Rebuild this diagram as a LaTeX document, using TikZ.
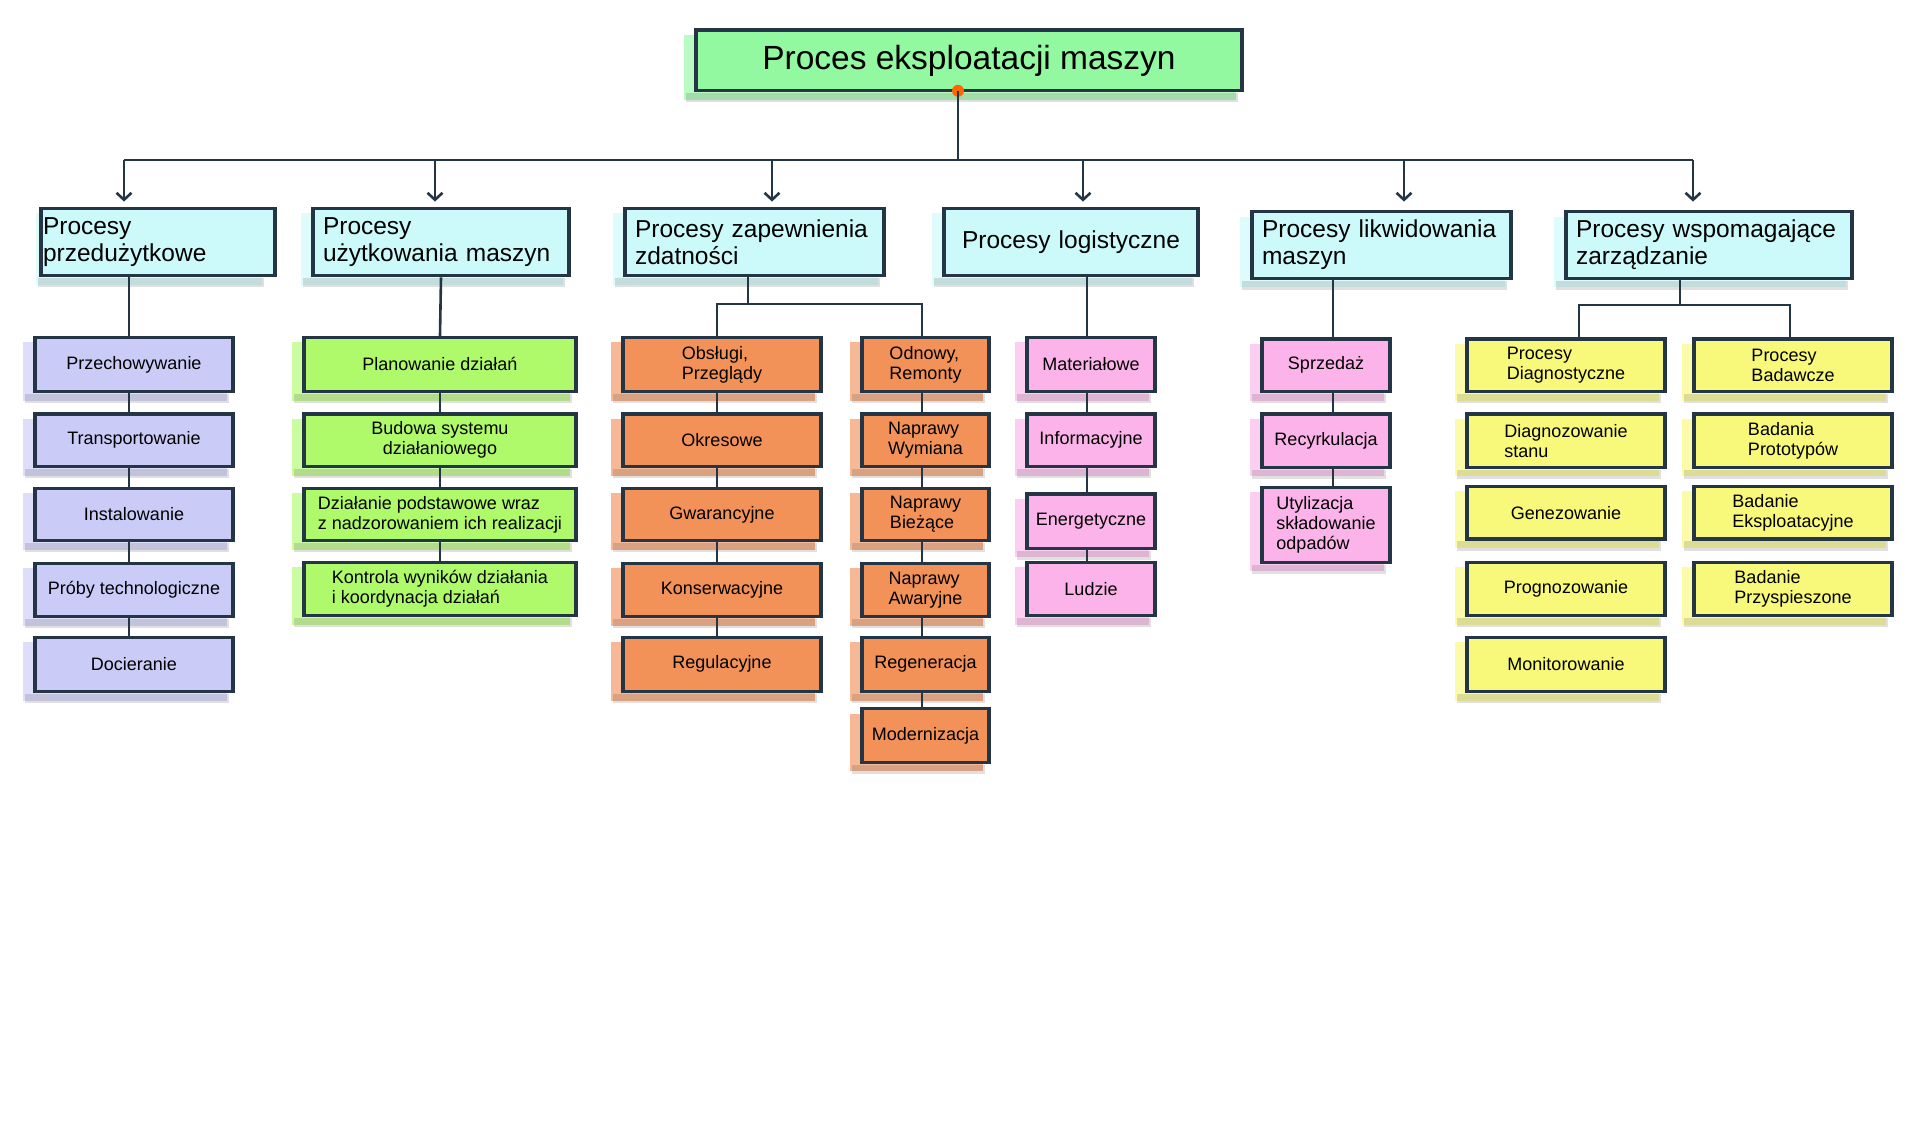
\documentclass[tikz,border=0pt]{standalone}
\usepackage{fontspec}
\setmainfont{Liberation Sans}
\usetikzlibrary{arrows.meta}
\definecolor{edge}{HTML}{243646}
\definecolor{cmain}{HTML}{93F9A0}
\definecolor{ccyan}{HTML}{CCFAFA}
\definecolor{clav}{HTML}{CBCBF8}
\definecolor{cgreen}{HTML}{AEFA6A}
\definecolor{corange}{HTML}{F29158}
\definecolor{cpink}{HTML}{FBB3E9}
\definecolor{cyel}{HTML}{F8F87A}
\tikzset{
 box/.style={draw=edge,line width=3.2pt,inner sep=2pt,align=center},
 lab/.style={font=\fontsize{18}{20}\selectfont},
 big/.style={font=\fontsize{24.5}{27}\selectfont,align=left},
 conn/.style={draw=edge,line width=2.6pt},
 arr/.style={conn,-{Straight Barb[length=7pt,width=15pt,line width=2.6pt]}},
}
\newcommand\bx[8][lab]{%
 \fill[#7!75,opacity=.85] (#3-12,#4+6) rectangle (#5-6,#6+11);
 \fill[black,opacity=.12] (#3-10,#6+3) rectangle (#5-4,#6+14);
 \node[box,#1,fill=#7,minimum width={(#5-#3)*1pt},minimum height={(#6-#4)*0.833pt}] (#2) at ({(#3+#5)/2},{(#4+#6)/2}) {#8};}
\begin{document}
\begin{tikzpicture}[x=1pt,y=-0.833pt]
\useasboundingbox (0,0) rectangle (1920,1360);
% main
\bx[font=\fontsize{33.5}{37}\selectfont]{main}{696}{36}{1242}{109}{cmain}{Proces eksploatacji maszyn}
% level 1
\bx[big,text width=230pt]{L1}{48}{250}{268}{331}{ccyan}{Procesy\\przedużytkowe}
\bx[big,text width=236pt]{L2}{313}{250}{569}{331}{ccyan}{Procesy\\użytkowania maszyn}
\bx[big,text width=239pt]{L3}{625}{250}{884}{331}{ccyan}{Procesy zapewnienia\\zdatności}
\bx[big,text width=234pt,align=center]{L4}{944}{250}{1198}{331}{ccyan}{Procesy logistyczne}
\bx[big,text width=239pt]{L5}{1252}{254}{1511}{334}{ccyan}{Procesy likwidowania\\maszyn}
\bx[big,text width=266pt]{L6}{1566}{254}{1852}{334}{ccyan}{Procesy wspomagające\\zarządzanie}
\fill[orange!80!red] (958,109) circle (6pt);
\coordinate (top) at (958,109);
\coordinate (bus) at (958,192);
\draw[conn] (top) -- (bus);
\draw[conn] (124,192) -- (1693,192);
\foreach \x/\n in {124/a1,435/a2,772/a3,1083/a4,1404/a5,1693/a6}{
 \coordinate (\n) at (\x,192);
 \draw[arr] (\n) -- ++(0,50);}
% column 1
\bx{c11}{35}{405}{233}{470}{clav}{Przechowywanie}
\bx{c12}{35}{497}{233}{560}{clav}{Transportowanie}
\bx{c13}{35}{586}{233}{649}{clav}{Instalowanie}
\bx{c14}{35}{676}{233}{740}{clav}{Próby technologiczne}
\bx{c15}{35}{765}{233}{830}{clav}{Docieranie}
% column 2
\bx{c21}{304}{405}{576}{470}{cgreen}{Planowanie działań}
\bx{c22}{304}{497}{576}{560}{cgreen}{Budowa systemu\\działaniowego}
\bx[lab,align=left]{c23}{304}{586}{576}{649}{cgreen}{Działanie podstawowe wraz\\z nadzorowaniem ich realizacji}
\bx[lab,align=left]{c24}{304}{675}{576}{739}{cgreen}{Kontrola wyników działania\\i koordynacja działań}
% column 3a
\bx[lab,align=left]{c31}{623}{405}{821}{470}{corange}{Obsługi,\\Przeglądy}
\bx{c32}{623}{497}{821}{560}{corange}{Okresowe}
\bx{c33}{623}{586}{821}{649}{corange}{Gwarancyjne}
\bx{c34}{623}{676}{821}{740}{corange}{Konserwacyjne}
\bx{c35}{623}{765}{821}{830}{corange}{Regulacyjne}
% column 3b
\bx[lab,align=left]{d31}{862}{405}{989}{470}{corange}{Odnowy,\\Remonty}
\bx[lab,align=left]{d32}{862}{497}{989}{560}{corange}{Naprawy\\Wymiana}
\bx[lab,align=left]{d33}{862}{586}{989}{649}{corange}{Naprawy\\Bieżące}
\bx[lab,align=left]{d34}{862}{676}{989}{740}{corange}{Naprawy\\Awaryjne}
\bx{d35}{862}{765}{989}{830}{corange}{Regeneracja}
\bx{d36}{862}{851}{989}{915}{corange}{Modernizacja}
% column 4
\bx{c41}{1027}{405}{1155}{470}{cpink}{Materiałowe}
\bx{c42}{1027}{497}{1155}{560}{cpink}{Informacyjne}
\bx{c43}{1027}{593}{1155}{658}{cpink}{Energetyczne}
\bx{c44}{1027}{675}{1155}{739}{cpink}{Ludzie}
% column 5
\bx{c51}{1262}{407}{1390}{470}{cpink}{Sprzedaż}
\bx{c52}{1262}{497}{1390}{561}{cpink}{Recyrkulacja}
\bx[lab,align=left]{c53}{1262}{585}{1390}{675}{cpink}{Utylizacja\\składowanie\\odpadów}
% column 6a
\bx[lab,align=left]{c61}{1467}{407}{1665}{470}{cyel}{Procesy\\Diagnostyczne}
\bx[lab,align=left]{c62}{1467}{497}{1665}{561}{cyel}{Diagnozowanie\\stanu}
\bx{c63}{1467}{584}{1665}{647}{cyel}{Genezowanie}
\bx{c64}{1467}{675}{1665}{739}{cyel}{Prognozowanie}
\bx{c65}{1467}{765}{1665}{830}{cyel}{Monitorowanie}
% column 6b
\bx[lab,align=left]{d61}{1694}{407}{1892}{470}{cyel}{Procesy\\Badawcze}
\bx[lab,align=left]{d62}{1694}{497}{1892}{561}{cyel}{Badania\\Prototypów}
\bx[lab,align=left]{d63}{1694}{584}{1892}{647}{cyel}{Badanie\\Eksploatacyjne}
\bx[lab,align=left]{d64}{1694}{675}{1892}{739}{cyel}{Badanie\\Przyspieszone}
% connectors
\draw[conn] (L1.south -| 129,0) -- (c11.north -| 129,0);
\draw[conn] (L2.south) -- (c21.north);
\draw[conn] (L3.south -| 748,0) -- (748,365) -| (c31.north -| 717,0);
\draw[conn] (748,365) -| (d31.north -| 922,0);
\draw[conn] (L4.south -| 1087,0) -- (c41.north -| 1087,0);
\draw[conn] (L5.south -| 1333,0) -- (c51.north -| 1333,0);
\draw[conn] (L6.south -| 1680,0) -- (1680,366) -| (c61.north -| 1579,0);
\draw[conn] (1680,366) -| (d61.north -| 1790,0);
\foreach \a/\b in {c11/c12,c12/c13,c13/c14,c14/c15}{\draw[conn] (\a.south -| 129,0) -- (\b.north -| 129,0);}
\foreach \a/\b in {c21/c22,c22/c23,c23/c24}{\draw[conn] (\a.south) -- (\b.north);}
\foreach \a/\b in {c31/c32,c32/c33,c33/c34,c34/c35}{\draw[conn] (\a.south -| 717,0) -- (\b.north -| 717,0);}
\foreach \a/\b in {d31/d32,d32/d33,d33/d34,d34/d35,d35/d36}{\draw[conn] (\a.south -| 922,0) -- (\b.north -| 922,0);}
\foreach \a/\b in {c41/c42,c42/c43,c43/c44}{\draw[conn] (\a.south -| 1087,0) -- (\b.north -| 1087,0);}
\foreach \a/\b in {c51/c52,c52/c53}{\draw[conn] (\a.south -| 1333,0) -- (\b.north -| 1333,0);}
\end{tikzpicture}
\end{document}
